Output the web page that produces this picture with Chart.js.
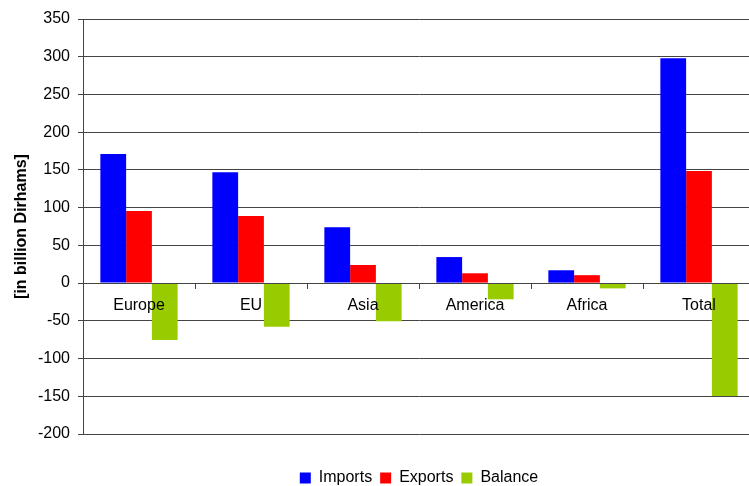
<!DOCTYPE html>
<html>
<head>
<meta charset="utf-8">
<script src="https://cdn.jsdelivr.net/npm/chart.js@4.4.0/dist/chart.umd.min.js"></script>
<style>
  html, body { margin: 0; padding: 0; overflow: hidden; background: #fff; width: 749px; height: 486px; }
  canvas { display: block; }
</style>
</head>
<body>
<canvas id="c" width="755" height="486"></canvas>
<script>
const categories = ["Europe", "EU", "Asia", "America", "Africa", "Total"];
const imports = [171, 147, 74, 34.5, 17, 298];
const exportsVals = [95.5, 89, 24, 13, 10.5, 148.5];
const balance = [-75.5, -58, -50.5, -21.5, -7, -149.5];
const seriesNames = ["Imports", "Exports", "Balance"];
const yTitle = "[in billion Dirhams]";

const FONT = '"Liberation Sans", Arial, sans-serif';
const GRID = '#444';

new Chart(document.getElementById('c'), {
  type: 'bar',
  data: {
    labels: categories,
    datasets: [
      { label: seriesNames[0], data: imports, backgroundColor: '#0000FF' },
      { label: seriesNames[1], data: exportsVals, backgroundColor: '#FF0000' },
      { label: seriesNames[2], data: balance, backgroundColor: '#99CC00' }
    ]
  },
  options: {
    responsive: false,
    animation: false,
    events: [],
    layout: { padding: { left: 0, right: 0, top: 19, bottom: -10 } },
    datasets: { bar: { categoryPercentage: 0.69, barPercentage: 1.0, borderWidth: 0 } },
    plugins: {
      tooltip: { enabled: false },
      legend: {
        position: 'bottom',
        fullSize: false,
        title: { display: true, text: ' ', font: { size: 10, lineHeight: 1 }, padding: { top: 18, bottom: 0 } },
        labels: {
          boxWidth: 11, boxHeight: 11, padding: 8,
          color: '#000',
          font: { family: FONT, size: 16 }
        }
      }
    },
    scales: {
      x: {
        position: { y: 0 },
        grid: { display: true, drawOnChartArea: false, drawTicks: true, tickLength: 5, color: GRID, offset: true, z: 1 },
        border: { display: true, color: GRID, width: 1, z: 1 },
        ticks: { color: '#000', font: { family: FONT, size: 16 }, padding: 8, maxRotation: 0, autoSkip: false, z: 1 }
      },
      y: {
        min: -200, max: 350,
        afterFit: (s) => { s.width = 83; },
        grid: { color: GRID, tickLength: 5, drawTicks: true },
        border: { display: true, color: GRID, width: 1 },
        ticks: { stepSize: 50, color: '#000', font: { family: FONT, size: 16 }, padding: 8 },
        title: { display: true, text: yTitle, color: '#000', font: { family: FONT, size: 16, weight: 'bold' }, padding: { top: 12, bottom: 4 } }
      }
    }
  }
});
</script>
</body>
</html>
